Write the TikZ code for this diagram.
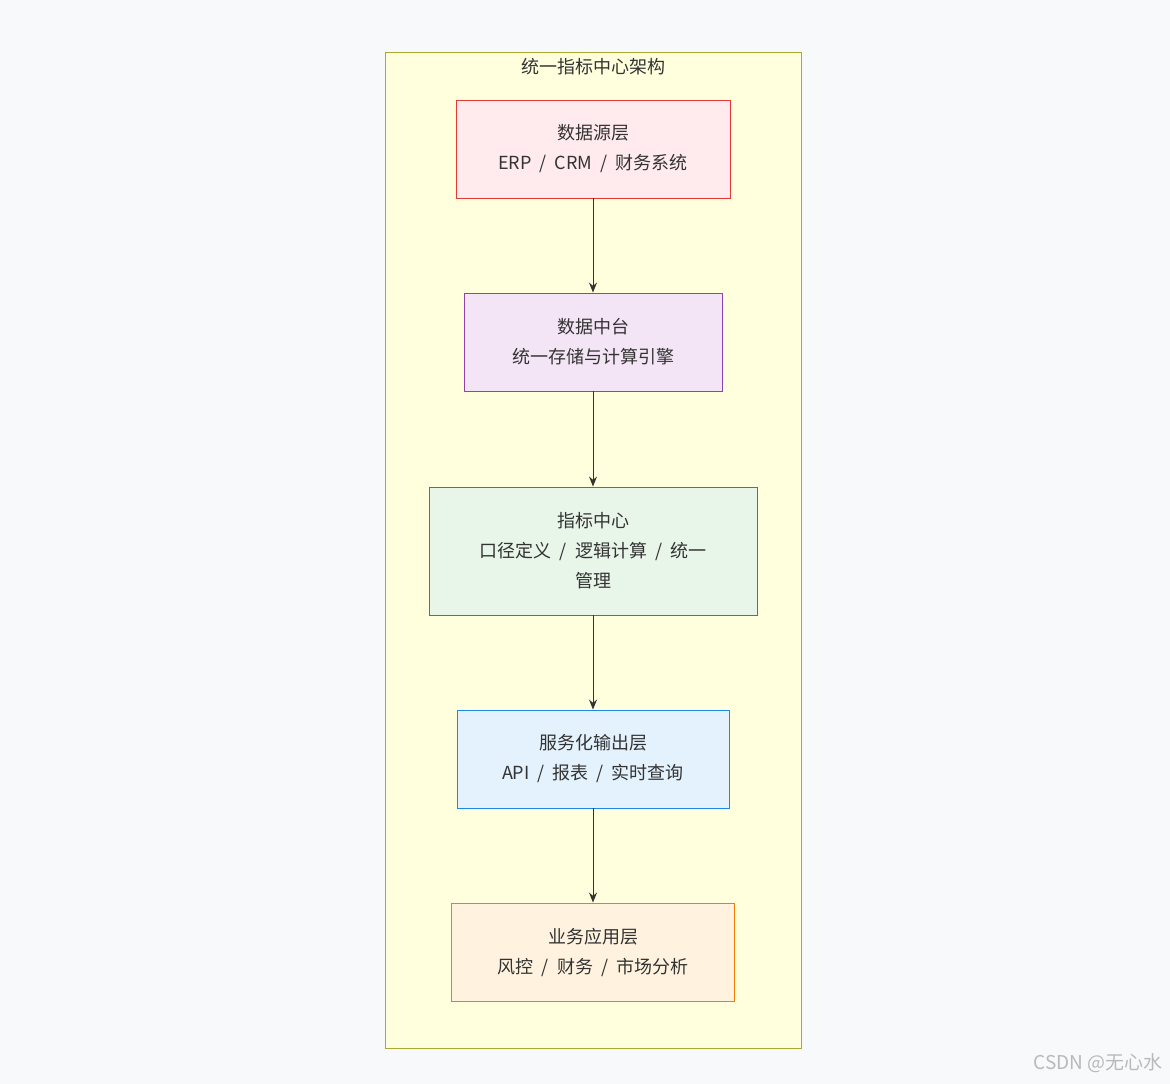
\documentclass[tikz,border=0pt]{standalone}
\usepackage{fontspec}
\setmainfont{Noto Sans CJK SC}
\usetikzlibrary{arrows.meta}
\definecolor{bg}{HTML}{F8F9FB}
\definecolor{cfill}{HTML}{FFFFDE}
\definecolor{cline}{HTML}{AAAA33}
\definecolor{txt}{HTML}{333333}
\definecolor{f1}{HTML}{FFEBEE}\definecolor{d1}{HTML}{E53935}
\definecolor{f2}{HTML}{F3E5F5}\definecolor{d2}{HTML}{8E44AD}
\definecolor{f3}{HTML}{E8F5E9}\definecolor{d3}{HTML}{388E3C}
\definecolor{f4}{HTML}{E3F2FD}\definecolor{d4}{HTML}{1E88E5}
\definecolor{f5}{HTML}{FFF3E0}\definecolor{d5}{HTML}{F57C00}
\newcommand{\mysep}{\ \ /\ \ }
\tikzset{
 box/.style={draw, line width=0.9pt, minimum height=98pt, align=center, text=txt, font=\fontsize{18pt}{30pt}\selectfont, inner sep=0pt},
 arr/.style={draw=txt, line width=1pt, -{Stealth[length=10pt,width=8pt]}}
}
\begin{document}
\begin{tikzpicture}[x=1pt,y=-1pt]
\useasboundingbox[fill=bg] (0,0) rectangle (1170,1084);
\node[draw=cline, fill=cfill, line width=0.8pt, minimum width=416pt, minimum height=996pt, inner sep=0pt] (cont) at (593,550) {};
\node[text=txt, font=\fontsize{18pt}{20pt}\selectfont] (title) at (593,67) {统一指标中心架构};
\node[box, draw=d1, fill=f1, minimum width=274pt] (b1) at (593,149) {数据源层\\ERP\mysep CRM\mysep 财务系统};
\node[box, draw=d2, fill=f2, minimum width=258pt] (b2) at (593,342) {数据中台\\统一存储与计算引擎};
\node[box, draw=d3, fill=f3, minimum width=328pt, minimum height=128pt] (b3) at (593,551) {指标中心\\口径定义\mysep 逻辑计算\mysep 统一\\管理};
\node[box, draw=d4, fill=f4, minimum width=272pt] (b4) at (593,759) {服务化输出层\\API\mysep 报表\mysep 实时查询};
\node[box, draw=d5, fill=f5, minimum width=283pt] (b5) at (593,952) {业务应用层\\风控\mysep 财务\mysep 市场分析};
\draw[arr] (b1) -- (b2);
\draw[arr] (b2) -- (b3);
\draw[arr] (b3) -- (b4);
\draw[arr] (b4) -- (b5);
\node[text=gray!55, font=\fontsize{19pt}{20pt}\selectfont, anchor=east] (wm) at (1166,1063) {CSDN @无心水};
\end{tikzpicture}
\end{document}
